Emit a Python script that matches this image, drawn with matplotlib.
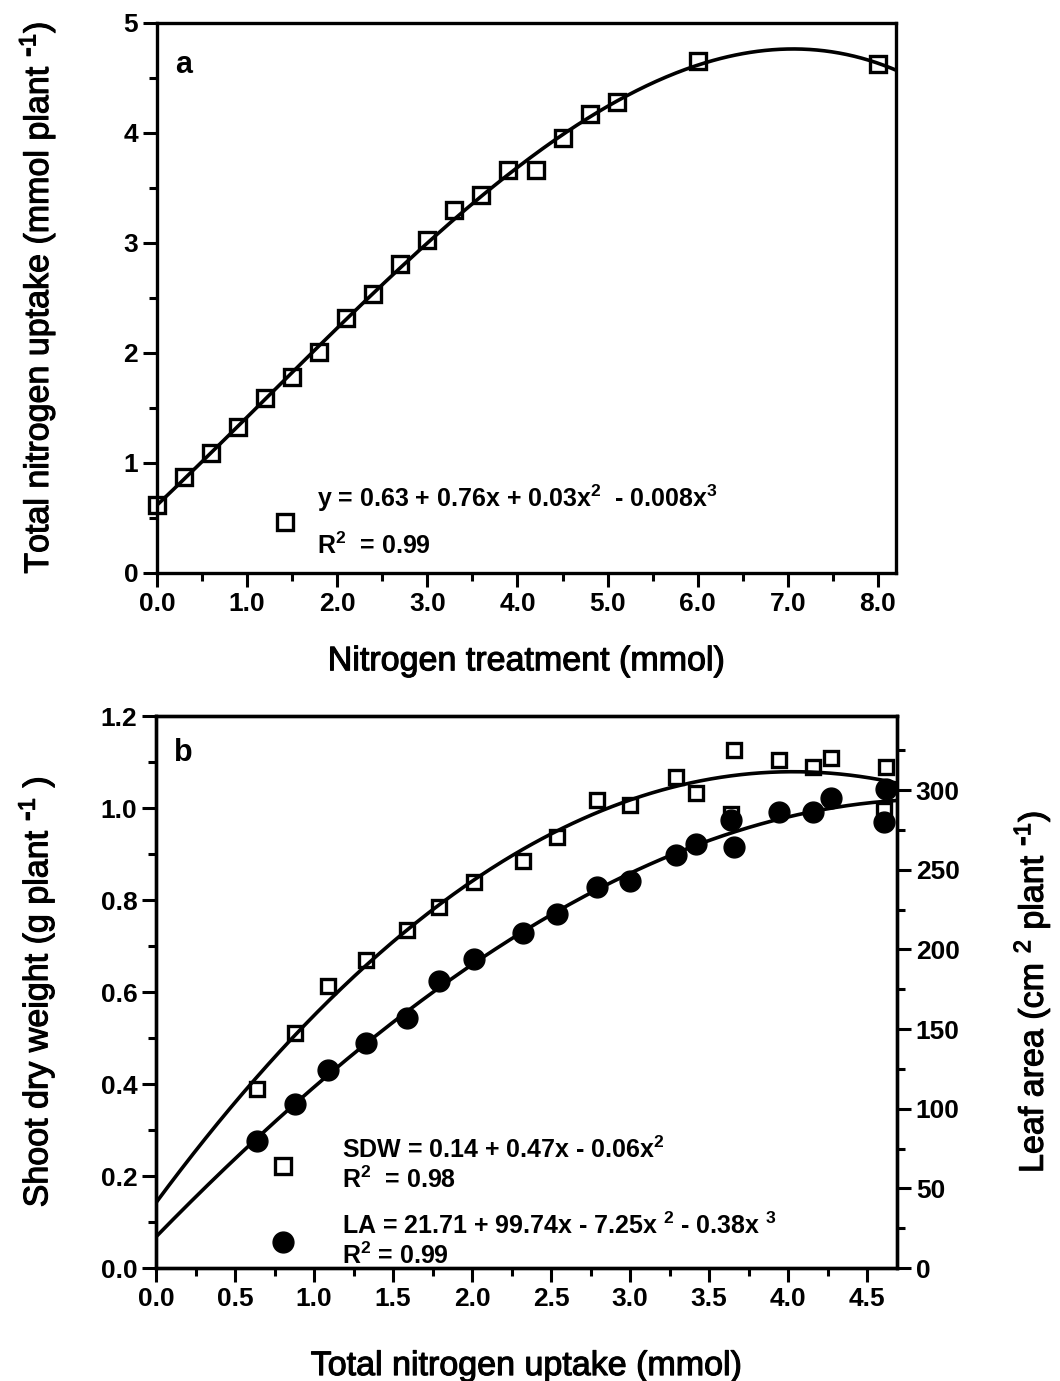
import matplotlib
matplotlib.use("Agg")
import matplotlib.pyplot as plt
import matplotlib.patheffects as pe
from matplotlib.lines import Line2D
from matplotlib.ticker import MultipleLocator, FormatStrFormatter
import numpy as np

plt.rcParams["font.family"] = ["Liberation Sans", "DejaVu Sans"]
plt.rcParams["font.weight"] = "bold"
plt.rcParams["mathtext.default"] = "regular"

# panel a: N supplied vs. N taken up per plant
treatment = [0.0, 0.3, 0.6, 0.9, 1.2, 1.5, 1.8, 2.1, 2.4, 2.7,
             3.0, 3.3, 3.6, 3.9, 4.2, 4.5, 4.8, 5.1, 6.0, 8.0]
n_uptake = [0.62, 0.87, 1.09, 1.33, 1.59, 1.78, 2.01, 2.32, 2.54, 2.81,
            3.03, 3.30, 3.44, 3.66, 3.66, 3.95, 4.17, 4.28, 4.65, 4.63]

# panel b: shoot dry weight (left axis) and leaf area (right axis) vs. N uptake
uptake_b = [0.64, 0.88, 1.09, 1.33, 1.59, 1.79, 2.01, 2.32, 2.54, 2.79,
            3.00, 3.29, 3.42, 3.64, 3.66, 3.94, 4.16, 4.27, 4.62, 4.61]
sdw = [0.39, 0.51, 0.614, 0.67, 0.735, 0.785, 0.84, 0.885, 0.938, 1.017,
       1.007, 1.068, 1.032, 0.988, 1.126, 1.104, 1.09, 1.108, 1.09, 0.996]
leaf_area = [80, 103, 124, 141, 157, 180, 194, 210, 222, 239,
             243, 259, 266, 281, 264, 286, 286, 295, 301, 280]

eq_a = "y = 0.63 + 0.76x + 0.03x$^{2}$  - 0.008x$^{3}$\nR$^{2}$  = 0.99"
eq_sdw = "SDW = 0.14 + 0.47x - 0.06x$^{2}$\nR$^{2}$  = 0.98"
eq_la = "LA = 21.71 + 99.74x - 7.25x $^{2}$ - 0.38x $^{3}$\nR$^{2}$ = 0.99"

TICK_FS = 19
LABEL_FS = 24.5
LEG_FS = 18
heavy = [pe.withStroke(linewidth=0.8, foreground="black")]


def style(ax):
    for s in ax.spines.values():
        s.set_linewidth(2.4)
    ax.tick_params(which="both", direction="out", width=2.2, labelsize=TICK_FS)
    ax.tick_params(which="major", length=10)
    ax.tick_params(which="minor", length=6)


def fit_curve(x, y, deg, xmax):
    coef = np.polyfit(x, y, deg)
    xs = np.linspace(0, xmax, 300)
    return xs, np.polyval(coef, xs)


fig = plt.figure(figsize=(10.6, 13.81), dpi=100)

# ---- (a) ----
axa = fig.add_axes([0.1481, 0.5851, 0.6972, 0.3983])
xmax_a = 8.2
xs, ys = fit_curve(treatment, n_uptake, 3, xmax_a)
axa.plot(xs, ys, color="black", lw=2.6, zorder=2)
axa.plot(treatment, n_uptake, ls="none", marker="s", ms=11, mfc="none",
         mec="black", mew=2.4, zorder=3, clip_on=False)
axa.set_xlim(0, xmax_a)
axa.set_ylim(0, 5)
axa.xaxis.set_major_locator(MultipleLocator(1.0))
axa.xaxis.set_minor_locator(MultipleLocator(0.5))
axa.xaxis.set_major_formatter(FormatStrFormatter("%.1f"))
axa.yaxis.set_major_locator(MultipleLocator(1))
axa.yaxis.set_minor_locator(MultipleLocator(0.5))
style(axa)
axa.set_xlabel("Nitrogen treatment (mmol)", fontsize=LABEL_FS,
               fontweight="normal", labelpad=22, path_effects=heavy)
axa.set_ylabel(r"Total nitrogen uptake (mmol plant $^{\text{-}1}$)", fontsize=LABEL_FS,
               fontweight="normal", labelpad=47, path_effects=heavy)
axa.text(0.024, 0.924, "a", transform=axa.transAxes, fontsize=22,
         fontweight="bold", va="center", ha="left")

h_sq = Line2D([], [], ls="none", marker="s", ms=11, mfc="none", mec="black", mew=2.4)
leg_a = axa.legend([h_sq], [eq_a], loc="center left", bbox_to_anchor=(0.156, 0.0945),
                   frameon=False, fontsize=LEG_FS, handlelength=1.0,
                   handletextpad=0.8, borderpad=0, borderaxespad=0)
for t in leg_a.get_texts():
    t.set_linespacing(1.85)

# ---- (b) ----
axb = fig.add_axes([0.1472, 0.0818, 0.6991, 0.3997])
ax2 = axb.twinx()
xmax_b = 4.69
xs, ys = fit_curve(uptake_b, sdw, 2, xmax_b)
axb.plot(xs, ys, color="black", lw=2.6, zorder=2)
axb.plot(uptake_b, sdw, ls="none", marker="s", ms=10.5, mfc="none",
         mec="black", mew=2.4, zorder=3)
xs, ys = fit_curve(uptake_b, leaf_area, 3, xmax_b)
ax2.plot(xs, ys, color="black", lw=2.6, zorder=2)
ax2.plot(uptake_b, leaf_area, ls="none", marker="o", ms=15, mfc="black",
         mec="black", zorder=3)

axb.set_xlim(0, xmax_b)
axb.set_ylim(0, 1.2)
ax2.set_ylim(0, 346.5)
axb.xaxis.set_major_locator(MultipleLocator(0.5))
axb.xaxis.set_minor_locator(MultipleLocator(0.25))
axb.xaxis.set_major_formatter(FormatStrFormatter("%.1f"))
axb.yaxis.set_major_locator(MultipleLocator(0.2))
axb.yaxis.set_minor_locator(MultipleLocator(0.1))
axb.yaxis.set_major_formatter(FormatStrFormatter("%.1f"))
ax2.yaxis.set_major_locator(MultipleLocator(50))
ax2.yaxis.set_minor_locator(MultipleLocator(25))
style(axb)
style(ax2)
axb.set_xlabel("Total nitrogen uptake (mmol)", fontsize=LABEL_FS,
               fontweight="normal", labelpad=29, path_effects=heavy)
axb.set_ylabel(r"Shoot dry weight (g plant $^{\text{-}1}$ )", fontsize=LABEL_FS,
               fontweight="normal", labelpad=31, path_effects=heavy)
ax2.set_ylabel(r"Leaf area (cm $^{2}$ plant $^{\text{-}1}$)", fontsize=LABEL_FS,
               fontweight="normal", labelpad=37, path_effects=heavy)
axb.text(0.024, 0.933, "b", transform=axb.transAxes, fontsize=22,
         fontweight="bold", va="center", ha="left")

h_ci = Line2D([], [], ls="none", marker="o", ms=15, mfc="black", mec="black")
leg_b = ax2.legend([h_sq, h_ci], [eq_sdw, eq_la], loc="center left",
                   bbox_to_anchor=(0.155, 0.118), frameon=False, fontsize=LEG_FS,
                   handlelength=1.0, handletextpad=1.85, borderpad=0,
                   borderaxespad=0, labelspacing=0.8)
for t in leg_b.get_texts():
    t.set_linespacing(1.15)
leg_b.set_zorder(2)

fig.savefig("out.png", dpi=100)
